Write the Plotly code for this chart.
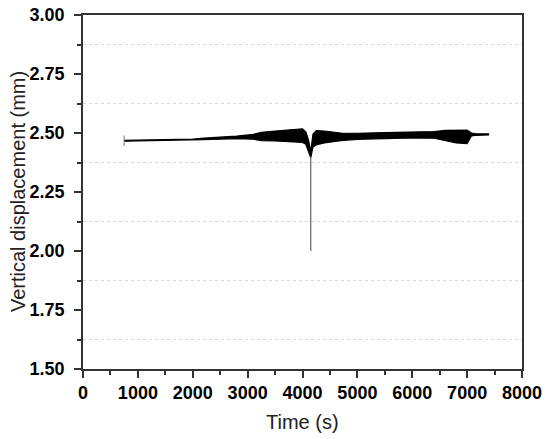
import plotly.graph_objects as go

# Envelope of the oscillating displacement signal
time_s = [750, 1500, 2000, 2200, 2500, 2800, 3100, 3250, 3500, 3800, 4000, 4060, 4110,
          4150, 4190, 4250, 4400, 4700, 5000, 5500, 6000, 6400, 6600, 6800, 7000, 7080,
          7150, 7400]
upper_mm = [2.469, 2.471, 2.474, 2.478, 2.482, 2.487, 2.494, 2.503, 2.508, 2.514, 2.518,
            2.505, 2.470, 2.420, 2.495, 2.510, 2.508, 2.500, 2.499, 2.502, 2.504, 2.506,
            2.511, 2.513, 2.512, 2.500, 2.497, 2.496]
lower_mm = [2.465, 2.467, 2.469, 2.472, 2.474, 2.476, 2.474, 2.468, 2.466, 2.463, 2.460,
            2.452, 2.420, 2.395, 2.440, 2.450, 2.458, 2.468, 2.473, 2.477, 2.479, 2.478,
            2.468, 2.458, 2.455, 2.488, 2.490, 2.492]

# Sharp drop near 4150 s
spike_time_s = [4150, 4150]
spike_mm = [2.40, 2.00]

# Small vertical mark at the start of the record
start_time_s = [750, 750]
start_mm = [2.445, 2.490]

x_ticks = [0, 1000, 2000, 3000, 4000, 5000, 6000, 7000, 8000]
y_ticks = [1.50, 1.75, 2.00, 2.25, 2.50, 2.75, 3.00]

fig = go.Figure()
fig.add_trace(go.Scatter(x=time_s, y=lower_mm, mode="lines",
                         line=dict(color="black", width=1.2), showlegend=False, hoverinfo="skip"))
fig.add_trace(go.Scatter(x=time_s, y=upper_mm, mode="lines", fill="tonexty",
                         fillcolor="black", line=dict(color="black", width=1.2),
                         showlegend=False))
fig.add_trace(go.Scatter(x=spike_time_s, y=spike_mm, mode="lines",
                         line=dict(color="#666", width=1.2), showlegend=False))
fig.add_trace(go.Scatter(x=start_time_s, y=start_mm, mode="lines",
                         line=dict(color="#777", width=1), showlegend=False))

axis_color = "#333"
font_family = "Liberation Sans, Arial, sans-serif"
tick_font = dict(family=font_family, size=18, color="black", weight="bold")
title_font = dict(family=font_family, size=20, color="#222")

fig.update_xaxes(
    range=[0, 8000], tickvals=x_ticks, ticktext=[str(v) for v in x_ticks],
    showline=True, linecolor=axis_color, linewidth=1.5, mirror=True,
    ticks="outside", ticklen=7, tickwidth=1.5, tickcolor=axis_color,
    minor=dict(dtick=500, ticks="outside", ticklen=4, tickwidth=1.5, tickcolor=axis_color, showgrid=False),
    showgrid=False, zeroline=False, tickfont=tick_font, automargin=False,
)
fig.update_yaxes(
    range=[1.5, 3.0], tickvals=y_ticks, ticktext=[f"{v:.2f}" for v in y_ticks],
    showline=True, linecolor=axis_color, linewidth=1.5, mirror=True,
    ticks="outside", ticklen=7, tickwidth=1.5, tickcolor=axis_color, ticklabelstandoff=6,
    minor=dict(tick0=1.625, dtick=0.25, ticks="outside", ticklen=4, tickwidth=1.5, tickcolor=axis_color,
               showgrid=True, gridcolor="#d8d8d8", griddash="dot", gridwidth=1),
    showgrid=False, zeroline=False, tickfont=tick_font, automargin=False,
)
fig.add_annotation(text="Time (s)", xref="paper", yref="paper", x=0.5, y=-0.15,
                   xanchor="center", yanchor="middle", showarrow=False, font=title_font)
fig.add_annotation(text="Vertical displacement (mm)", xref="paper", yref="paper", x=-0.148, y=0.5,
                   xanchor="center", yanchor="middle", textangle=-90, showarrow=False, font=title_font)
fig.update_layout(
    width=550, height=439,
    margin=dict(l=83, r=28, t=15, b=70),
    plot_bgcolor="white", paper_bgcolor="white",
    showlegend=False,
)
# Remove the browser's default 8px body margin so the figure fills the window exactly
fig.write_html("out.html", config={"displayModeBar": False},
               post_script="document.body.style.margin='0px';document.body.style.overflow='hidden';")
